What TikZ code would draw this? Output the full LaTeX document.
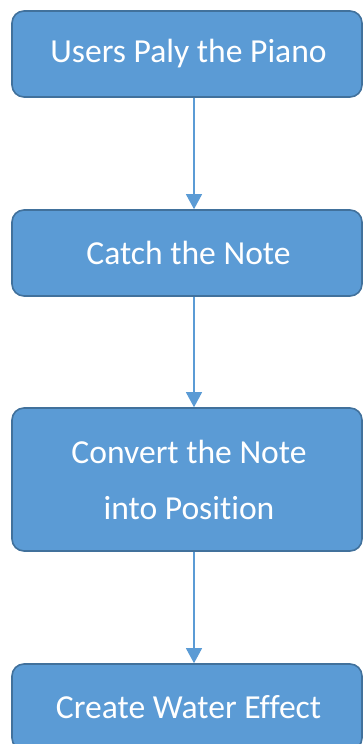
\documentclass[tikz,border=0pt]{standalone}
\usepackage{fontspec}
\setmainfont{Carlito}[Ligatures=NoCommon]
\usetikzlibrary{arrows.meta}
\definecolor{boxfill}{HTML}{5B9BD5}
\definecolor{boxline}{HTML}{41719C}
\tikzset{
  stepbox/.style={draw=boxline, line width=1.6pt, fill=boxfill, rounded corners=12pt,
    minimum width=350pt, inner sep=0pt, text=white, align=center,
    font=\fontsize{33.6}{56}\selectfont},
  flow/.style={draw=boxfill, line width=1.2pt, -{Triangle[length=15pt,width=16pt]}}
}
\begin{document}
\begin{tikzpicture}[x=1pt,y=1pt]
\useasboundingbox (0,0) rectangle (363,744);
\begin{scope}
\clip (0,0) rectangle (363,744);
\node[stepbox, minimum height=86pt] (a) at (187,690) {\hspace*{3pt}Users Paly the Piano};
\node[stepbox, minimum height=86pt] (b) at (187,491) {\hspace*{3pt}Catch the Note};
\node[stepbox, minimum height=143pt] (c) at (187,264.5) {\hspace*{4pt}Convert the Note\\\hspace*{4pt}into Position};
\node[stepbox, minimum height=86pt] (d) at (187,37) {\hspace*{3pt}Create Water Effect};
\end{scope}
\draw[flow] (a.south -| 194,0) -- (b.north -| 194,0);
\draw[flow] (b.south -| 194,0) -- (c.north -| 194,0);
\draw[flow] (c.south -| 194,0) -- (d.north -| 194,0);
\end{tikzpicture}
\end{document}
